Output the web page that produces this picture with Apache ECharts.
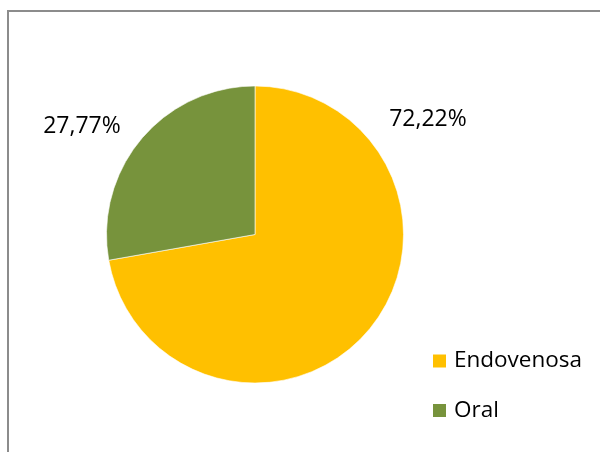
<!DOCTYPE html>
<html>
<head>
<meta charset="utf-8">
<script src="https://cdn.jsdelivr.net/npm/echarts@6/dist/echarts.min.js"></script>
<style>
  html, body { margin: 0; padding: 0; background: #fff; }
  #chart { width: 600px; height: 452px; }
</style>
</head>
<body>
<div id="chart"></div>
<script>
// datos del gráfico
const categories = ['Endovenosa', 'Oral'];
const values = [72.22, 27.77];
const labels = ['72,22%', '27,77%'];
const colors = ['#FFC000', '#77933C'];

const chart = echarts.init(document.getElementById('chart'));

// posición de las etiquetas como en el original (Excel "mejor ajuste")
const labelPos = [[428, 119], [82, 126]];

const option = {
  animation: false,
  graphic: [{
    type: 'rect',
    shape: { x: 8, y: 11, width: 700, height: 600 },
    style: { fill: 'none', stroke: '#8c8c8c', lineWidth: 2 },
    silent: true
  }],
  legend: {
    orient: 'vertical',
    left: 426,
    top: 343,
    itemWidth: 15,
    itemHeight: 15,
    itemGap: 23.5,
    icon: 'rect',
    textStyle: { fontFamily: 'Open Sans', fontSize: 22.5, color: '#000', padding: [0, 0, 0, 2], lineHeight: 26 },
    data: categories
  },
  series: [{
    type: 'pie',
    center: [255, 234.5],
    radius: 148.5,
    startAngle: 90,
    clockwise: true,
    itemStyle: { borderColor: '#fff', borderWidth: 0.6 },
    label: {
      show: true,
      position: 'outside',
      fontFamily: 'Open Sans',
      fontSize: 23,
      color: '#000',
      formatter: p => labels[p.dataIndex]
    },
    labelLine: { show: false },
    labelLayout: p => ({
      x: labelPos[p.dataIndex][0],
      y: labelPos[p.dataIndex][1],
      align: 'center',
      verticalAlign: 'middle'
    }),
    data: categories.map((c, i) => ({
      name: c,
      value: values[i],
      itemStyle: { color: colors[i] }
    }))
  }]
};

chart.setOption(option);
</script>
</body>
</html>
